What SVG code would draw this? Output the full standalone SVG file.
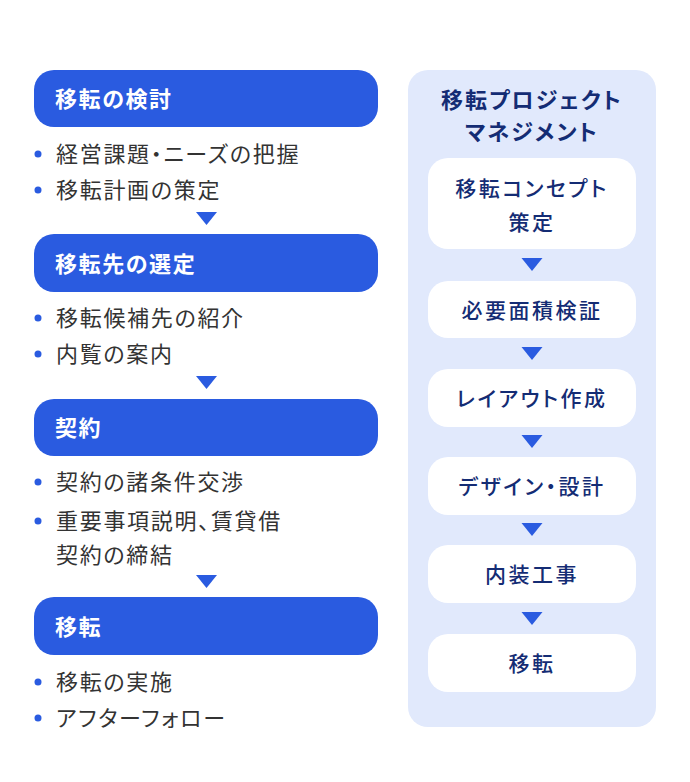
<svg xmlns="http://www.w3.org/2000/svg" width="690" height="782" viewBox="0 0 690 782">
<style>
text{font-feature-settings:"palt"}
.hd{fill:#2A5BE0}
.ht{font-family:"Noto Sans CJK JP","Noto Sans",sans-serif;font-size:22px;font-weight:700;fill:#fff;letter-spacing:1.6px}
.it{font-family:"Noto Sans CJK JP","Noto Sans",sans-serif;font-size:22px;font-weight:400;fill:#333;letter-spacing:1.7px}
.dot{fill:#2A5BE0}
.tri{fill:#2A5BE0}
.pn{fill:#E1E9FC}
.wb{fill:#fff}
.pt{font-family:"Noto Sans CJK JP","Noto Sans",sans-serif;font-size:22px;font-weight:700;fill:#142C74;text-anchor:middle;letter-spacing:2px}
.bt{font-family:"Noto Sans CJK JP","Noto Sans",sans-serif;font-size:21px;font-weight:500;fill:#142C74;text-anchor:middle;letter-spacing:2.5px}
</style>
<rect width="690" height="782" fill="#fff"/>

<g id="step1">
<rect class="hd" x="34" y="70" width="344" height="57" rx="20"/>
<text class="ht" x="55" y="107">移転の検討</text>
<circle class="dot" cx="38" cy="154" r="3.5"/>
<text class="it" x="56" y="162">経営課題・ニーズの把握</text>
<circle class="dot" cx="38" cy="190" r="3.5"/>
<text class="it" x="56" y="198">移転計画の策定</text>
</g>
<g id="step2">
<rect class="hd" x="34" y="234" width="344" height="58" rx="20"/>
<text class="ht" x="55" y="272">移転先の選定</text>
<circle class="dot" cx="38" cy="318" r="3.5"/>
<text class="it" x="56" y="326">移転候補先の紹介</text>
<circle class="dot" cx="38" cy="354" r="3.5"/>
<text class="it" x="56" y="362">内覧の案内</text>
</g>
<g id="step3">
<rect class="hd" x="34" y="399" width="344" height="57" rx="20"/>
<text class="ht" x="55" y="436">契約</text>
<circle class="dot" cx="38" cy="482" r="3.5"/>
<text class="it" x="56" y="490">契約の諸条件交渉</text>
<circle class="dot" cx="38" cy="521" r="3.5"/>
<text class="it" x="56" y="529">重要事項説明、賃貸借</text>
<text class="it" x="56" y="563">契約の締結</text>
</g>
<g id="step4">
<rect class="hd" x="34" y="597" width="344" height="58" rx="20"/>
<text class="ht" x="55" y="635">移転</text>
<circle class="dot" cx="38" cy="682" r="3.5"/>
<text class="it" x="56" y="690">移転の実施</text>
<circle class="dot" cx="38" cy="718" r="3.5"/>
<text class="it" x="56" y="726">アフターフォロー</text>
</g>

<g id="pm-panel">
<rect class="pn" x="408" y="70" width="248" height="657" rx="20"/>
<text class="pt" x="532" y="108">移転プロジェクト</text>
<text class="pt" x="532" y="140">マネジメント</text>
</g>
<g id="pm1">
<rect class="wb" x="428" y="158" width="208" height="91" rx="20"/>
<text class="bt" x="532" y="196">移転コンセプト</text>
<text class="bt" x="532" y="230">策定</text>
</g>
<g id="pm2">
<rect class="wb" x="428" y="281" width="208" height="57" rx="20"/>
<text class="bt" x="532" y="318">必要面積検証</text>
</g>
<g id="pm3">
<rect class="wb" x="428" y="369" width="208" height="58" rx="20"/>
<text class="bt" x="532" y="406">レイアウト作成</text>
</g>
<g id="pm4">
<rect class="wb" x="428" y="457" width="208" height="58" rx="20"/>
<text class="bt" x="532" y="494">デザイン・設計</text>
</g>
<g id="pm5">
<rect class="wb" x="428" y="545" width="208" height="58" rx="20"/>
<text class="bt" x="532" y="582">内装工事</text>
</g>
<g id="pm6">
<rect class="wb" x="428" y="634" width="208" height="58" rx="20"/>
<text class="bt" x="532" y="671">移転</text>
</g>

<g id="connectors">
<polygon class="tri" points="196,212 217,212 206.5,225"/>
<polygon class="tri" points="196,376 217,376 206.5,389"/>
<polygon class="tri" points="196,575 217,575 206.5,588"/>
<polygon class="tri" points="521.5,258 542.5,258 532,271"/>
<polygon class="tri" points="521.5,347 542.5,347 532,360"/>
<polygon class="tri" points="521.5,435 542.5,435 532,448"/>
<polygon class="tri" points="521.5,523 542.5,523 532,536"/>
<polygon class="tri" points="521.5,612 542.5,612 532,625"/>
</g>
</svg>
